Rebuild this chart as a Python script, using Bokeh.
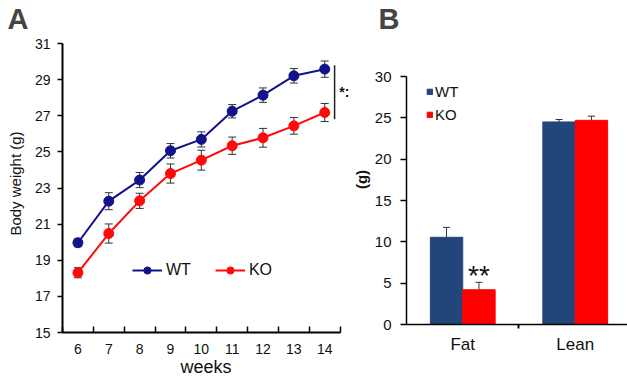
from bokeh.plotting import figure
from bokeh.layouts import row
from bokeh.models import (ColumnDataSource, Whisker, TeeHead, Range1d, FixedTicker,
                          Legend, LegendItem, Label)
from bokeh.embed import file_html
from bokeh.resources import INLINE

# ---------------- data ----------------
weeks = [6, 7, 8, 9, 10, 11, 12, 13, 14]
wt_weight = [19.97, 22.27, 23.44, 25.06, 25.69, 27.25, 28.14, 29.21, 29.58]
wt_weight_err = [0.22, 0.47, 0.42, 0.40, 0.42, 0.37, 0.40, 0.40, 0.45]
ko_weight = [18.31, 20.48, 22.29, 23.80, 24.54, 25.34, 25.78, 26.44, 27.18]
ko_weight_err = [0.28, 0.53, 0.42, 0.53, 0.55, 0.48, 0.52, 0.46, 0.50]
weight_ticks = [15, 17, 19, 21, 23, 25, 27, 29, 31]

compartments = ["Fat", "Lean"]
wt_mass = [10.55, 24.5]
wt_mass_err = [1.2, 0.3]
ko_mass = [4.2, 24.7]
ko_mass_err = [0.9, 0.5]
mass_ticks = [0, 5, 10, 15, 20, 25, 30]

FONT = "Liberation Sans"
WT_A = "#12128a"
KO_A = "#ff0a0a"
WT_B = "#22467a"
KO_B = "#ff0000"
TXT = "#111111"

H = 381
WA = 349
WB = 627 - WA
TOP = 34

# panel A geometry: y=31 sits 9px below frame top, 30.85 px per week
pa = figure(width=WA, height=H, output_backend="svg", toolbar_location=None,
            x_range=Range1d(5.5, 5.5 + (WA - 62) / 30.85),
            y_range=Range1d(15, 31 + 9 / 18.06),
            min_border_left=62, min_border_right=0, min_border_top=TOP, min_border_bottom=49)
pb = figure(width=WB, height=H, output_backend="svg", toolbar_location=None,
            x_range=Range1d(0, (WB - 56) / 113.0),
            y_range=Range1d(0, 30 * (H - 57 - TOP) / 248.0),
            min_border_left=56, min_border_right=0, min_border_top=TOP, min_border_bottom=57)
for p, letter, offs in ((pa, "A", -55), (pb, "B", -28)):
    try:
        p.frame_align = False
    except Exception:
        pass
    p.outline_line_color = None
    p.grid.visible = False
    p.title.text = letter
    p.title.text_font = FONT
    p.title.text_font_size = "29px"
    p.title.text_font_style = "bold"
    p.title.align = "left"
    p.title.offset = offs
    p.title.standoff = 0

src_wt = ColumnDataSource(dict(x=weeks, y=wt_weight,
                               up=[v + e for v, e in zip(wt_weight, wt_weight_err)],
                               lo=[v - e for v, e in zip(wt_weight, wt_weight_err)]))
src_ko = ColumnDataSource(dict(x=weeks, y=ko_weight,
                               up=[v + e for v, e in zip(ko_weight, ko_weight_err)],
                               lo=[v - e for v, e in zip(ko_weight, ko_weight_err)]))

for src in (src_wt, src_ko):
    w = Whisker(base="x", upper="up", lower="lo", source=src, line_color="#333333", line_width=1,
                upper_head=TeeHead(size=8, line_color="#333333", line_width=1),
                lower_head=TeeHead(size=8, line_color="#333333", line_width=1))
    pa.add_layout(w)

wl = pa.line("x", "y", source=src_wt, line_color=WT_A, line_width=2)
ws = pa.scatter("x", "y", source=src_wt, size=10, fill_color=WT_A, line_color=WT_A)
kl = pa.line("x", "y", source=src_ko, line_color=KO_A, line_width=2)
ks = pa.scatter("x", "y", source=src_ko, size=10, fill_color=KO_A, line_color=KO_A)

leg_a = Legend(items=[LegendItem(label="WT", renderers=[wl, ws]),
                      LegendItem(label="KO", renderers=[kl, ks])],
               orientation="horizontal", location=(70, 53), background_fill_alpha=0,
               border_line_alpha=0, padding=0, margin=0, glyph_width=30, glyph_height=18,
               label_standoff=4, spacing=24, label_text_font_size="16px",
               label_text_font=FONT, label_text_color=TXT)
pa.add_layout(leg_a)

# significance bracket
pa.segment(x0=[14.32], y0=[26.8], x1=[14.32], y1=[29.8], line_color="#222222", line_width=1.5)
pa.add_layout(Label(x=14.47, y=28.3, text="*:", text_font=FONT, text_font_size="14px",
                    text_font_style="bold", text_baseline="middle", text_align="left",
                    text_color=TXT))

xa = pa.xaxis[0]
xa.ticker = FixedTicker(ticks=weeks, minor_ticks=[w - 0.5 for w in weeks] + [weeks[-1] + 0.5])
xa.bounds = (weeks[0] - 0.5, weeks[-1] + 0.5)
xa.major_tick_out = 0
xa.major_tick_in = 0
xa.minor_tick_in = 6
xa.minor_tick_out = 0
xa.minor_tick_line_color = "black"
xa.minor_tick_line_width = 1.5
xa.axis_line_width = 2
xa.axis_line_color = "black"
xa.major_label_standoff = 11
xa.major_label_text_font = FONT
xa.major_label_text_font_size = "14px"
xa.major_label_text_color = TXT
xa.axis_label = "weeks"
xa.axis_label_text_font = FONT
xa.axis_label_text_font_size = "18px"
xa.axis_label_text_font_style = "normal"
xa.axis_label_text_color = TXT
xa.axis_label_standoff = 0

ya = pa.yaxis[0]
ya.ticker = FixedTicker(ticks=weight_ticks, minor_ticks=[])
ya.bounds = (weight_ticks[0], weight_ticks[-1])
ya.major_tick_out = 5
ya.major_tick_in = 0
ya.major_tick_line_width = 1.5
ya.axis_line_width = 2
ya.axis_line_color = "black"
ya.major_label_standoff = 7
ya.major_label_text_font = FONT
ya.major_label_text_font_size = "14px"
ya.major_label_text_color = TXT
ya.axis_label = "Body weight (g)"
ya.axis_label_text_font = FONT
ya.axis_label_text_font_size = "15px"
ya.axis_label_text_font_style = "normal"
ya.axis_label_text_color = TXT
ya.axis_label_standoff = 8

# ---------------- panel B ----------------
idx = list(range(len(compartments)))
off = 0.144
bw = 0.288
src_bwt = ColumnDataSource(dict(x=[i + 0.5 - off for i in idx], top=wt_mass,
                                up=[v + e for v, e in zip(wt_mass, wt_mass_err)]))
src_bko = ColumnDataSource(dict(x=[i + 0.5 + off for i in idx], top=ko_mass,
                                up=[v + e for v, e in zip(ko_mass, ko_mass_err)]))

for src in (src_bwt, src_bko):
    w = Whisker(base="x", upper="up", lower="top", source=src, line_color="#333333", line_width=1,
                upper_head=TeeHead(size=7, line_color="#333333", line_width=1), lower_head=None)
    pb.add_layout(w)

bwt = pb.vbar(x="x", top="top", width=bw, source=src_bwt, fill_color=WT_B, line_color=WT_B)
bko = pb.vbar(x="x", top="top", width=bw, source=src_bko, fill_color=KO_B, line_color=KO_B)

leg_b = Legend(items=[LegendItem(label="WT", renderers=[bwt]),
                      LegendItem(label="KO", renderers=[bko])],
               location=(20, 201), background_fill_alpha=0, border_line_alpha=0,
               padding=0, margin=0, glyph_width=7, glyph_height=7, label_height=16,
               label_standoff=2, spacing=6, label_text_font_size="15px",
               label_text_font=FONT, label_text_color=TXT)
pb.add_layout(leg_b)

pb.add_layout(Label(x=0.5 + off, y=5.95, text="**", text_font=FONT, text_font_size="28px",
                    text_baseline="middle", text_align="center", text_color=TXT))

xb = pb.xaxis[0]
xb.ticker = FixedTicker(ticks=[i + 0.5 for i in idx], minor_ticks=[i + 1 for i in idx[:-1]])
xb.major_label_overrides = {i + 0.5: c for i, c in zip(idx, compartments)}
xb.major_tick_out = 0
xb.major_tick_in = 0
xb.minor_tick_out = 4
xb.minor_tick_in = 0
xb.minor_tick_line_color = "black"
xb.minor_tick_line_width = 2
xb.axis_line_width = 1.5
xb.axis_line_color = "black"
xb.major_label_standoff = 6
xb.major_label_text_font = FONT
xb.major_label_text_font_size = "17px"
xb.major_label_text_color = TXT

yb = pb.yaxis[0]
yb.ticker = FixedTicker(ticks=mass_ticks, minor_ticks=[])
yb.bounds = (mass_ticks[0], mass_ticks[-1])
yb.major_tick_out = 6
yb.major_tick_in = 0
yb.major_tick_line_width = 1.5
yb.axis_line_width = 1.5
yb.axis_line_color = "black"
yb.major_label_standoff = 9
yb.major_label_text_font = FONT
yb.major_label_text_font_size = "15px"
yb.major_label_text_color = TXT
yb.axis_label = "(g)"
yb.axis_label_text_font = FONT
yb.axis_label_text_font_size = "15px"
yb.axis_label_text_font_style = "bold"
yb.axis_label_text_color = TXT
yb.axis_label_standoff = 2

layout = row(pa, pb)
open("out.html", "w").write(file_html(layout, INLINE))
